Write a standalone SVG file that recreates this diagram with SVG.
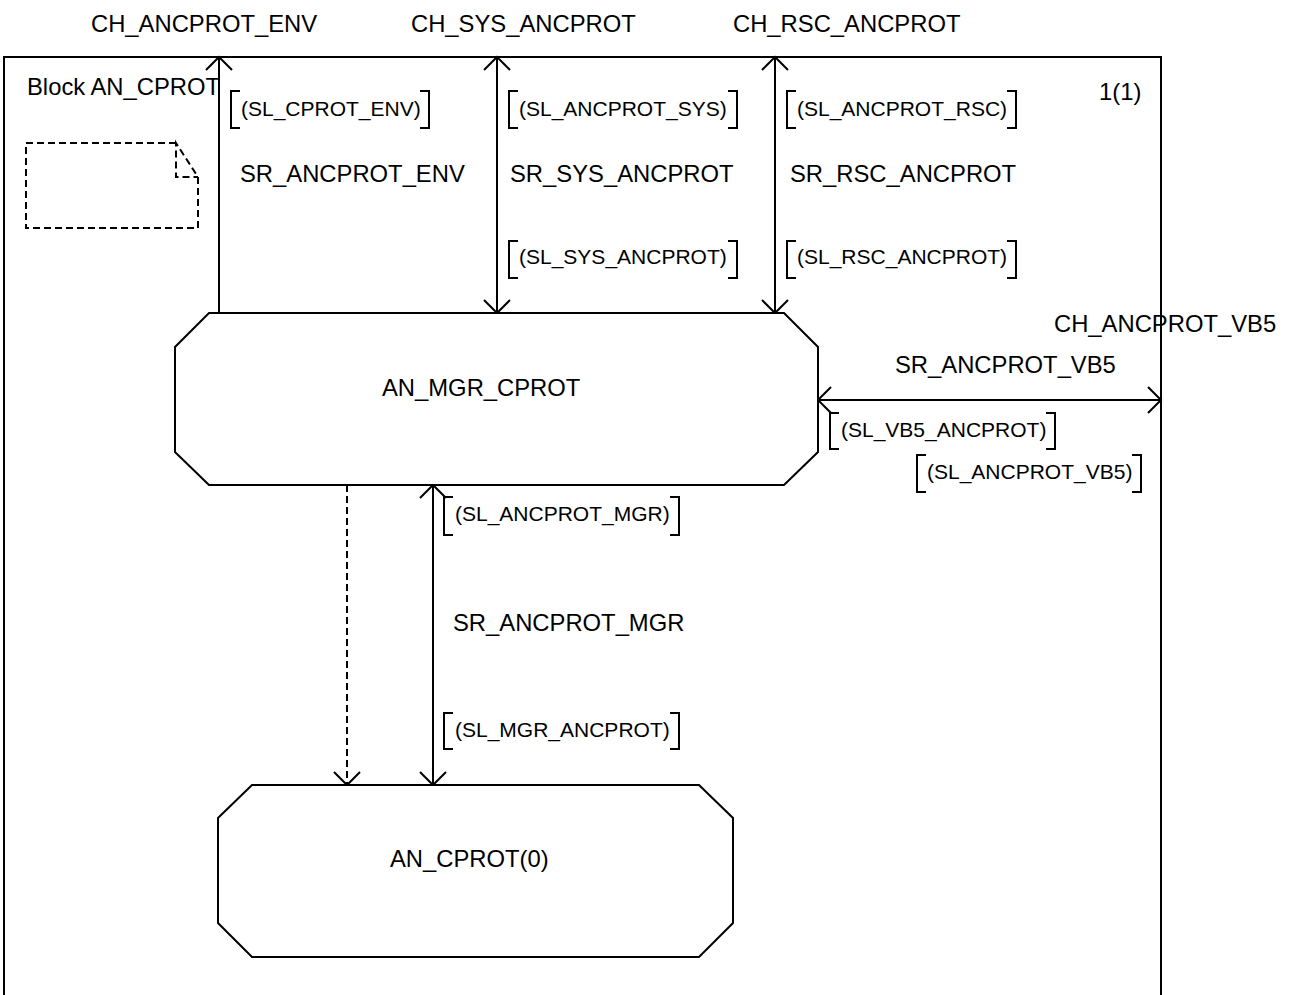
<svg xmlns="http://www.w3.org/2000/svg" width="1292" height="995" viewBox="0 0 1292 995">
<style>
text{font-family:"Liberation Sans",Arial,sans-serif;fill:#000}
.lbl{font-size:23.8px}
.sl{font-size:21px}
.ln{fill:none;stroke:#000;stroke-width:2}
.dash{stroke-dasharray:7 4}
.node{fill:#fff;stroke:#000;stroke-width:2}
</style>
<defs>
<marker id="arr" viewBox="-15 -15 30 30" refX="0" refY="0" markerWidth="30" markerHeight="30" markerUnits="userSpaceOnUse" orient="auto-start-reverse">
<path d="M-13,-13 L0,0 L-13,13" fill="none" stroke="#000" stroke-width="2" stroke-dasharray="none"/>
</marker>
</defs>
<rect width="1292" height="995" fill="#fff"/>
<g id="frame">
<path class="ln" d="M4,1000 V57 H1161 V1000"/>
<text class="lbl" x="27" y="95">Block AN_CPROT</text>
<text class="lbl" x="1099" y="100">1(1)</text>
<path class="ln dash" d="M176,143 H26 V228 H198 V177 L176,143 V177 H198"/>
</g>
<g id="channel-labels">
<text class="lbl" x="91" y="32">CH_ANCPROT_ENV</text>
<text class="lbl" x="411" y="32">CH_SYS_ANCPROT</text>
<text class="lbl" x="733" y="32">CH_RSC_ANCPROT</text>
<text class="lbl" x="1054" y="332">CH_ANCPROT_VB5</text>
</g>
<g id="connectors">
<line class="ln" x1="219" y1="313" x2="219" y2="57" marker-end="url(#arr)"/>
<line class="ln" x1="497" y1="57" x2="497" y2="313" marker-start="url(#arr)" marker-end="url(#arr)"/>
<line class="ln" x1="775" y1="57" x2="775" y2="313" marker-start="url(#arr)" marker-end="url(#arr)"/>
<line class="ln" x1="818" y1="400" x2="1161" y2="400" marker-start="url(#arr)" marker-end="url(#arr)"/>
<line class="ln" x1="433" y1="485" x2="433" y2="785" marker-start="url(#arr)" marker-end="url(#arr)"/>
<line class="ln dash" x1="347" y1="485" x2="347" y2="785" marker-end="url(#arr)"/>
<text class="lbl" x="240" y="182">SR_ANCPROT_ENV</text>
<text class="lbl" x="510" y="182">SR_SYS_ANCPROT</text>
<text class="lbl" x="790" y="182">SR_RSC_ANCPROT</text>
<text class="lbl" x="895" y="373">SR_ANCPROT_VB5</text>
<text class="lbl" x="453" y="631">SR_ANCPROT_MGR</text>
<g class="signals">
<path class="ln" d="M240,91 H231 V128 H240 M420,91 H429 V128 H420"/>
<text class="sl" x="241" y="116">(SL_CPROT_ENV)</text>
<path class="ln" d="M518,91 H509 V128 H518 M728,91 H737 V128 H728"/>
<text class="sl" x="519" y="116">(SL_ANCPROT_SYS)</text>
<path class="ln" d="M518,241 H509 V278 H518 M728,241 H737 V278 H728"/>
<text class="sl" x="519" y="264">(SL_SYS_ANCPROT)</text>
<path class="ln" d="M796,91 H787 V128 H796 M1007,91 H1016 V128 H1007"/>
<text class="sl" x="797" y="116">(SL_ANCPROT_RSC)</text>
<path class="ln" d="M796,241 H787 V278 H796 M1007,241 H1016 V278 H1007"/>
<text class="sl" x="797" y="264">(SL_RSC_ANCPROT)</text>
<path class="ln" d="M839,413 H830 V449 H839 M1046,413 H1055 V449 H1046"/>
<text class="sl" x="841" y="437">(SL_VB5_ANCPROT)</text>
<path class="ln" d="M926,455 H917 V492 H926 M1132,455 H1141 V492 H1132"/>
<text class="sl" x="927" y="479">(SL_ANCPROT_VB5)</text>
<path class="ln" d="M453,497 H444 V535 H453 M670,497 H679 V535 H670"/>
<text class="sl" x="455" y="521">(SL_ANCPROT_MGR)</text>
<path class="ln" d="M453,713 H444 V749 H453 M670,713 H679 V749 H670"/>
<text class="sl" x="455" y="737">(SL_MGR_ANCPROT)</text>
</g>
</g>
<g id="AN_MGR_CPROT">
<path class="node" d="M209,313 H784 L818,347 V452 L784,485 H209 L175,452 V347 Z"/>
<text class="lbl" x="382" y="396">AN_MGR_CPROT</text>
</g>
<g id="AN_CPROT">
<path class="node" d="M252,785 H699 L733,818 V923 L699,957 H252 L218,923 V818 Z"/>
<text class="lbl" x="390" y="867">AN_CPROT(0)</text>
</g>
</svg>
